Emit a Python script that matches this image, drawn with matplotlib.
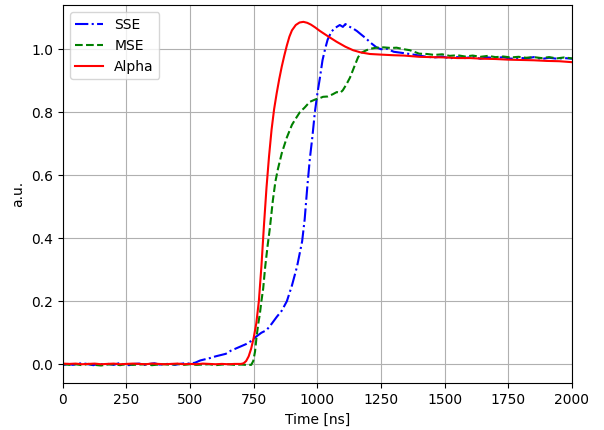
import matplotlib
matplotlib.use("Agg")
import matplotlib.pyplot as plt

# SSE (blue, dash-dot)
sse_t = [0, 20, 40, 60, 80, 100, 120, 140, 160, 180, 200, 220, 240, 260, 280, 300,
         320, 340, 360, 380, 400, 420, 440, 460, 480, 500, 520, 540, 560, 580, 600,
         620, 640, 660, 680, 700, 720, 740, 760, 780, 800, 820, 840, 860, 880, 900,
         920, 940, 950, 960, 970, 980, 990, 1000, 1010, 1020, 1030, 1040, 1055, 1070,
         1088, 1100, 1110, 1125, 1140, 1155, 1170, 1190, 1210, 1232, 1250, 1272, 1300,
         1337, 1370, 1400, 1430, 1460, 1490, 1520, 1550, 1580, 1610, 1640, 1670, 1700,
         1730, 1760, 1790, 1820, 1850, 1880, 1910, 1940, 1970, 2000]
sse_y = [-0.003, 0.001, -0.002, 0.002, 0.003, 0.0, -0.003, 0.002, -0.001, 0.001, -0.002,
         0.003, 0.0, -0.003, 0.001, 0.002, -0.002, 0.001, 0.003, -0.001, 0.0, 0.002,
         -0.002, 0.001, 0.003, 0.002, 0.005, 0.012, 0.016, 0.02, 0.025, 0.029, 0.033,
         0.043, 0.05, 0.057, 0.064, 0.074, 0.088, 0.1, 0.108, 0.128, 0.15, 0.17, 0.2,
         0.25, 0.31, 0.39, 0.46, 0.56, 0.65, 0.72, 0.8, 0.86, 0.91, 0.965, 1.0, 1.03,
         1.056, 1.068, 1.077, 1.071, 1.08, 1.072, 1.066, 1.058, 1.048, 1.035, 1.02,
         1.006, 1.0, 1.002, 0.992, 0.988, 0.984, 0.98, 0.976, 0.974, 0.977, 0.971,
         0.975, 0.972, 0.976, 0.97, 0.974, 0.972, 0.975, 0.97, 0.973, 0.971, 0.975,
         0.969, 0.973, 0.97, 0.972, 0.97]

# MSE (green, dashed)
mse_t = [0, 25, 50, 75, 100, 125, 150, 175, 200, 225, 250, 275, 300, 325, 350, 375,
         400, 425, 450, 475, 500, 525, 550, 575, 600, 625, 650, 675, 700, 720, 740,
         748, 755, 761, 768, 774, 780, 787, 795, 805, 813, 825, 835, 845, 860, 880,
         900, 915, 931, 950, 970, 990, 1010, 1022, 1040, 1060, 1076, 1090, 1100, 1115,
         1128, 1145, 1160, 1175, 1193, 1210, 1232, 1260, 1290, 1311, 1340, 1363, 1400,
         1430, 1460, 1490, 1520, 1550, 1580, 1610, 1640, 1670, 1700, 1730, 1760, 1790,
         1820, 1850, 1880, 1910, 1940, 1970, 2000]
mse_y = [0.001, -0.002, 0.0, -0.003, 0.001, -0.002, -0.004, -0.001, 0.0, -0.003, 0.001,
         -0.002, -0.001, 0.0, -0.003, -0.001, 0.0, -0.002, 0.001, -0.002, 0.0, -0.002,
         -0.001, 0.0, -0.003, -0.001, 0.0, -0.002, -0.001, -0.002, -0.002, 0.01, 0.04,
         0.087, 0.13, 0.16, 0.2, 0.24, 0.31, 0.38, 0.43, 0.52, 0.58, 0.62, 0.67, 0.72,
         0.76, 0.78, 0.8, 0.815, 0.833, 0.84, 0.845, 0.849, 0.85, 0.857, 0.864, 0.862,
         0.87, 0.89, 0.91, 0.945, 0.975, 0.99, 0.997, 1.002, 1.005, 1.006, 1.004, 1.005,
         1.0, 0.997, 0.986, 0.985, 0.982, 0.984, 0.979, 0.981, 0.977, 0.98, 0.976,
         0.979, 0.975, 0.977, 0.974, 0.976, 0.973, 0.975, 0.972, 0.975, 0.971, 0.974,
         0.971]

# Alpha (red, solid)
alpha_t = [0, 25, 50, 75, 100, 125, 150, 175, 200, 225, 250, 275, 300, 325, 350, 375,
           400, 425, 450, 475, 500, 525, 550, 575, 600, 625, 650, 675, 700, 710, 720,
           730, 740, 750, 760, 770, 780, 790, 800, 810, 820, 830, 840, 850, 860, 870,
           880, 890, 900, 915, 930, 945, 960, 975, 990, 1010, 1040, 1075, 1110, 1140,
           1170, 1206, 1250, 1300, 1340, 1400, 1450, 1500, 1550, 1600, 1650, 1700, 1750,
           1800, 1850, 1900, 1950, 2000]
alpha_y = [0.002, 0.001, 0.002, 0.0, 0.001, 0.002, 0.0, 0.001, 0.002, 0.0, 0.001,
           0.002, 0.001, 0.0, 0.002, 0.001, 0.0, 0.001, 0.002, 0.0, 0.001, 0.0, 0.002,
           0.001, 0.0, 0.001, 0.0, 0.001, 0.001, 0.003, 0.01, 0.025, 0.05, 0.085, 0.13,
           0.2, 0.31, 0.44, 0.56, 0.66, 0.745, 0.81, 0.86, 0.905, 0.945, 0.98, 1.012,
           1.04, 1.06, 1.077, 1.085, 1.087, 1.084, 1.078, 1.07, 1.058, 1.042, 1.024,
           1.008, 0.997, 0.99, 0.985, 0.983, 0.981, 0.98, 0.976, 0.975, 0.974, 0.972,
           0.972, 0.97, 0.969, 0.967, 0.966, 0.965, 0.963, 0.962, 0.959]

fig = plt.figure(figsize=(6.04, 4.30), dpi=100)
ax = fig.add_axes([0.104, 0.109, 0.843, 0.879])

ax.plot(sse_t, sse_y, color='blue', linestyle='-.', lw=1.5, label='SSE')
ax.plot(mse_t, mse_y, color='green', linestyle='--', lw=1.5, label='MSE')
ax.plot(alpha_t, alpha_y, color='red', linestyle='-', lw=1.5, label='Alpha')

ax.set_xlim(0, 2000)
ax.set_ylim(-0.06, 1.14)
ax.set_xticks([0, 250, 500, 750, 1000, 1250, 1500, 1750, 2000])
ax.set_yticks([0.0, 0.2, 0.4, 0.6, 0.8, 1.0])
ax.grid(True)
ax.set_xlabel('Time [ns]')
ax.set_ylabel('a.u.')
ax.legend(loc='upper left')

fig.savefig('out.png', dpi=100)
